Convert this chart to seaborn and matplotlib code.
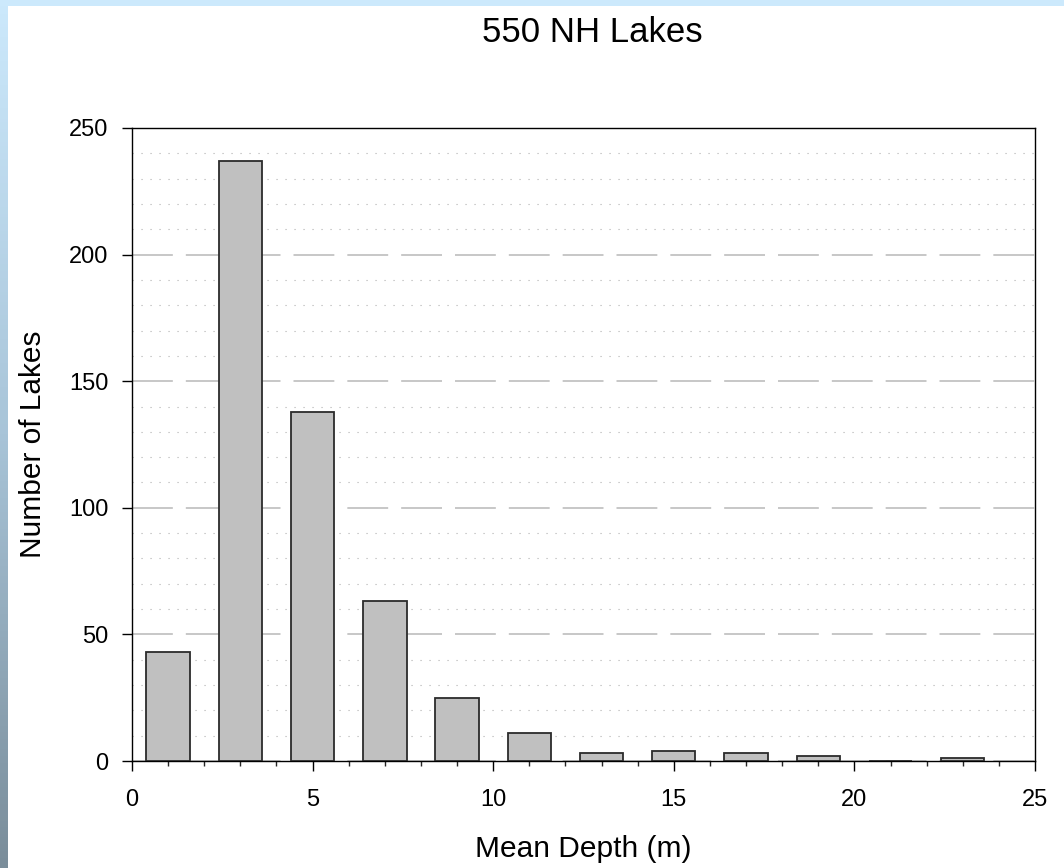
import numpy as np
import matplotlib
matplotlib.use("Agg")
import matplotlib.pyplot as plt
from matplotlib.colors import LinearSegmentedColormap
from matplotlib.patches import Rectangle
from matplotlib.ticker import MultipleLocator
import seaborn as sns

# data: bin centres (m) and lake counts
depth_mid = [1, 3, 5, 7, 9, 11, 13, 15, 17, 19, 21, 23]
n_lakes = [43, 237, 138, 63, 25, 11, 3, 4, 3, 2, 0, 1]
title = "550 NH Lakes"
xlabel = "Mean Depth (m)"
ylabel = "Number of Lakes"

sns.set_theme(style="ticks")
plt.rcParams["font.family"] = ["Liberation Sans", "DejaVu Sans"]

W, H = 1064, 868
fig = plt.figure(figsize=(W / 100, H / 100), dpi=100)
fig.patch.set_facecolor("white")

# decorative frame: light blue top strip, blue->grey gradient down the left
fig.patches.append(Rectangle((0, 1 - 6 / H), 1, 6 / H, transform=fig.transFigure,
                             facecolor="#cce9fc", edgecolor="none", zorder=0))
strip = fig.add_axes([0, 0, 8 / W, 1])
cmap = LinearSegmentedColormap.from_list("strip", ["#cce9fc", "#a8c4d8", "#7a8d9a"])
strip.imshow(np.linspace(0, 1, 256).reshape(-1, 1), cmap=cmap, aspect="auto")
strip.axis("off")

ax = fig.add_axes([132 / W, 1 - 761 / H, (1035 - 132) / W, (761 - 128) / H])
sns.barplot(x=depth_mid, y=n_lakes, native_scale=True, width=0.6, ax=ax,
            color="#c0c0c0", saturation=1, edgecolor="#2b2b2b", linewidth=1.3, zorder=3)

ax.set_xlim(0, 25)
ax.set_ylim(0, 250)
ax.xaxis.set_major_locator(MultipleLocator(5))
ax.xaxis.set_minor_locator(MultipleLocator(1))
ax.yaxis.set_major_locator(MultipleLocator(50))
ax.yaxis.set_minor_locator(MultipleLocator(10))

ax.set_axisbelow(True)
ax.grid(False)
ax.yaxis.grid(True, which="major", color="#bdbdbd", linewidth=1.2, linestyle=(0, (24.5, 7.8)))
ax.yaxis.grid(True, which="minor", color="#b0b0b0", linewidth=0.8, linestyle=(0, (1, 7.1)))

for s in ax.spines.values():
    s.set_visible(True)
    s.set_color("black")
    s.set_linewidth(1.0)

ax.tick_params(axis="x", which="major", direction="out", length=7, width=1.0,
               labelsize=17, pad=13, colors="black")
ax.tick_params(axis="x", which="minor", direction="out", length=3.5, width=1.0)
ax.tick_params(axis="y", which="major", direction="out", length=7, width=1.0,
               labelsize=17, pad=10, colors="black")
ax.tick_params(axis="y", which="minor", length=0)
ax.set_xticklabels([str(int(v)) for v in ax.get_xticks()])

ax.set_xlabel(xlabel, fontsize=21.5, color="black")
ax.set_ylabel(ylabel, fontsize=21.5, color="black")
ax.xaxis.label.set_va("baseline")
ax.yaxis.label.set_va("baseline")
ax.xaxis.set_label_coords(0.5, (761 - 857) / 633)
ax.yaxis.set_label_coords((41 - 132) / 903, 0.5)

fig.text(592 / W, 1 - 42 / H, title, ha="center", va="baseline", fontsize=25, color="black")

fig.savefig("out.png", dpi=100)
